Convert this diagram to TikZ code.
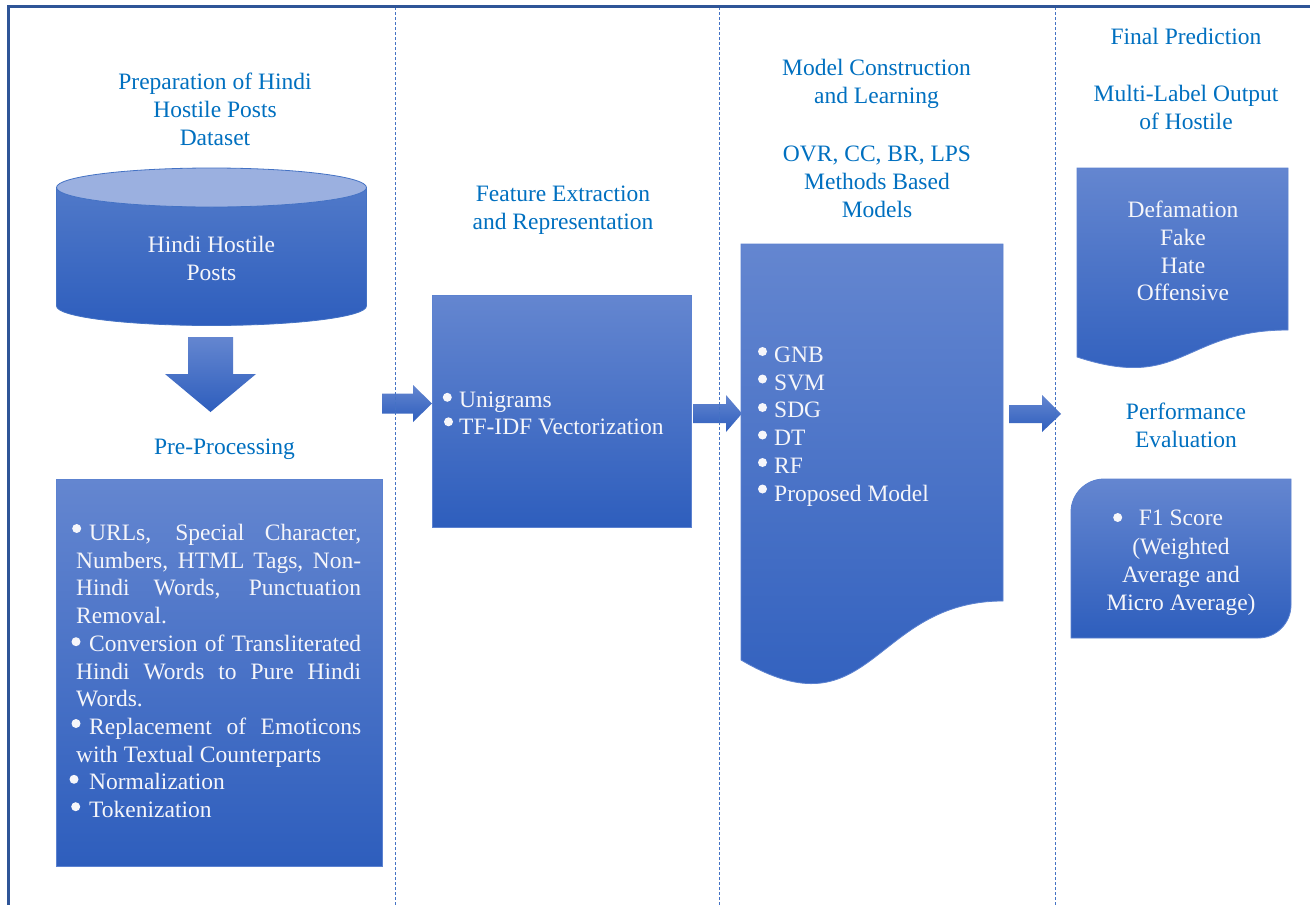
\documentclass[tikz,border=0pt]{standalone}
\usepackage{fontspec}
\setmainfont{Liberation Serif}
\definecolor{ttlc}{HTML}{0070C0}
\definecolor{gtop}{RGB}{100,134,208}
\definecolor{gbot}{RGB}{46,94,189}
\definecolor{cyltopside}{RGB}{80,121,201}
\definecolor{edgec}{RGB}{92,130,208}
\definecolor{framec}{RGB}{47,85,151}
\definecolor{dashc}{RGB}{68,114,196}
\definecolor{cyltop}{RGB}{155,176,224}
\definecolor{wtxt}{RGB}{246,246,250}
\newcommand{\fs}{\fontsize{23.5}{27.7}\selectfont}
\newcommand{\bl}{\hspace*{18pt}}
\newcommand{\bls}{\hspace*{17pt}}
\tikzset{
  grad/.style={top color=gtop, bottom color=gbot, draw=edgec, line width=0.8pt},
  agrad/.style={top color=gtop, bottom color=gbot, draw=none},
  ttl/.style={text=ttlc, font=\fs, align=center, inner sep=0pt},
  wt/.style={text=wtxt, font=\fs, inner sep=0pt},
  bdot/.style={fill=wtxt},
  divider/.style={draw=dashc, line width=1pt, dash pattern=on 3pt off 2pt},
  framel/.style={draw=framec, line width=2.5pt},
}
\begin{document}
\begin{tikzpicture}[x=1pt,y=-1pt]
\useasboundingbox (0,0) rectangle (1310,905);
\fill[white] (0,0) rectangle (1310,905);

% ---- column 1: dataset ----
\node[ttl] (t1) at (215,109.5) {Preparation of Hindi\\Hostile Posts\\Dataset};
\path[top color=cyltopside, bottom color=gbot, draw=dashc, line width=0.8pt]
  (56.5,187.5) -- (56.5,306) .. controls (56.5,316.8) and (125.9,325.5) .. (211.5,325.5)
  .. controls (297.1,325.5) and (366.5,316.8) .. (366.5,306) -- (366.5,187.5) -- cycle;
\path[fill=cyltop, draw=dashc, line width=0.8pt] (211.5,187.5) ellipse [x radius=155, y radius=19.5];
\node[wt, align=center] (cyl) at (211.5,258.5) {Hindi Hostile\\Posts};

% down arrow
\path[agrad] (188,337) -- (233,337) -- (233,374) -- (256,374) -- (210.5,412) -- (165,374) -- (188,374) -- cycle;

\node[ttl] (t1b) at (224.5,449) {Pre-Processing};
\node[grad, rectangle, minimum width=326pt, minimum height=387pt, inner sep=0pt] (prebox) at (219.5,672.5) {};
\node[wt, anchor=west, align=left] (pretext) at (71,671) {%
\bl\makebox[272pt][s]{URLs, Special Character,}\\
\hspace*{5pt}\makebox[285pt][s]{Numbers, HTML Tags, Non-}\\
\hspace*{5pt}\makebox[285pt][s]{Hindi Words, Punctuation}\\
\hspace*{5pt}Removal.\\
\bl\makebox[272pt][s]{Conversion of Transliterated}\\
\hspace*{5pt}\makebox[285pt][s]{Hindi Words to Pure Hindi}\\
\hspace*{5pt}Words.\\
\bl\makebox[272pt][s]{Replacement of Emoticons}\\
\hspace*{5pt}with Textual Counterparts\\
\bl Normalization\\
\bl Tokenization};
\foreach \bx/\by in {76.7/528.5, 76/641.7, 76/723.5, 74/779.3, 75.7/806.7}
  \fill[bdot] (\bx,\by) circle[radius=4.5pt];

% ---- column 2: features ----
\path[agrad] (382,393.5) -- (413,393.5) -- (413,385) -- (432,403.5) -- (413,422) -- (413,413.5) -- (382,413.5) -- cycle;
\node[ttl] (t2) at (563,210) {Feature Extraction\\and Representation};
\node[grad, rectangle, minimum width=259pt, minimum height=232pt, inner sep=0pt] (featbox) at (561.5,411) {};
\node[wt, anchor=west, align=left] (feattext) at (442,413.5) {\bls Unigrams\\\bls TF-IDF Vectorization};
\foreach \bx/\by in {447.3/397.3, 448.5/421.8}
  \fill[bdot] (\bx,\by) circle[radius=4.5pt];

% ---- column 3: models ----
\path[agrad] (693,404) -- (726,404) -- (726,395) -- (742,413.5) -- (726,432) -- (726,423) -- (693,423) -- cycle;
\node[ttl] (t3) at (876.5,84) {Model Construction\\and Learning};
\node[ttl] (t3b) at (877,182) {OVR, CC, BR, LPS\\Methods Based\\Models};
\path[grad] (741,244) -- (1003,244) -- (1003,601) .. controls (872,601) and (872,737) .. (741,660) -- cycle;
\node[wt, anchor=west, align=left] (modtext) at (756,426.5) {%
\bl GNB\\\bl SVM\\\bl SDG\\\bl DT\\\bl RF\\\bl Proposed Model};
\foreach \by in {351.5, 379, 407.5, 435, 462.5, 489}
  \fill[bdot] (762.5,\by) circle[radius=4.5pt];

% ---- column 4: outputs ----
\path[agrad] (1009,405) -- (1042,405) -- (1042,395) -- (1061,414) -- (1042,432) -- (1042,423) -- (1009,423) -- cycle;
\node[ttl] (t4) at (1186,36.5) {Final Prediction};
\node[ttl] (t4b) at (1186,107.5) {Multi-Label Output\\of Hostile};
\path[grad] (1077,168) -- (1288,168) -- (1288,330) .. controls (1182.5,330) and (1182.5,391.7) .. (1077,357) -- cycle;
\node[wt, align=center] (outtext) at (1183,251) {Defamation\\Fake\\Hate\\Offensive};
\node[ttl] (t5) at (1186,425) {Performance\\Evaluation};
\path[grad] (1104,479) -- (1291,479) -- (1291,605) .. controls (1291,623.2) and (1276.2,638) .. (1258,638)
  -- (1071,638) -- (1071,512) .. controls (1071,493.8) and (1085.8,479) .. (1104,479) -- cycle;
\node[wt, align=center, font=\fontsize{23.5}{28.2}\selectfont] (f1text) at (1181,563) {F1 Score\\(Weighted\\Average and\\Micro Average)};
\fill[bdot] (1117.7,517.5) circle[radius=4.5pt];

% ---- frame and dividers ----
\draw[divider] (395.3,7) -- (395.3,905);
\draw[divider] (719.3,7) -- (719.3,905);
\draw[divider] (1055.3,7) -- (1055.3,905);
\draw[framel] (1310,6.3) -- (8.7,6.3) -- (8.7,905);
\end{tikzpicture}
\end{document}
